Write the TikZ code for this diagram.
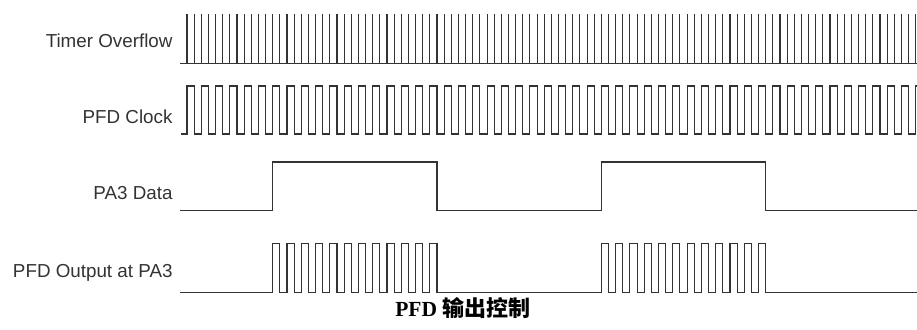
\documentclass[tikz,border=0pt]{standalone}
\usepackage{fontspec}
\setmainfont{Liberation Sans}
\newfontfamily\cjk{Noto Sans CJK SC}
\newfontfamily\titleserif{Liberation Serif}
\definecolor{wave}{rgb}{0.2,0.2,0.2}
\begin{document}
\begin{tikzpicture}[x=1pt,y=-1pt,
  wavestyle/.style={draw=wave,line width=1.1pt,line join=miter},
  lbl/.style={anchor=base east,inner sep=0pt,text=wave,font=\fontsize{18.8}{22}\selectfont}]
\useasboundingbox (0,0) rectangle (917,329);
\def\P{14.288}
\def\H{7.144}
% labels
\node[lbl] (lto) at (172.7,47.5) {Timer Overflow};
\node[lbl] (lclk) at (172.7,123.5) {PFD Clock};
\node[lbl] (ldata) at (172.7,199.5) {PA3 Data};
\node[lbl] (lout) at (172.7,277.5) {PFD Output at PA3};
% timer overflow
\draw[wavestyle] (180,63.3) -- (917,63.3);
\foreach \k in {0,...,102}{
  \draw[wavestyle] ({187+\k*\H},63.3) -- ({187+\k*\H},14);
}
% PFD clock
\draw[wavestyle] (181,134) -- (187,134)
  foreach \k in {0,...,50}{
    -- ({187+\k*\P},86) -- ({187+\k*\P+\H},86) -- ({187+\k*\P+\H},134) -- ({187+(\k+1)*\P},134)
  } -- ({187+51*\P},86) -- (917,86);
% PA3 data
\draw[wavestyle] (180,210.7) -- ({187+6*\P},210.7) -- ({187+6*\P},162) -- ({187+17.5*\P},162)
  -- ({187+17.5*\P},210.7) -- ({187+29*\P},210.7) -- ({187+29*\P},162) -- ({187+40.5*\P},162)
  -- ({187+40.5*\P},210.7) -- (917,210.7);
% PFD output
\draw[wavestyle] (180,292.7) -- ({187+6*\P},292.7)
  foreach \k in {6,...,17}{
    -- ({187+\k*\P},243.3) -- ({187+\k*\P+\H},243.3) -- ({187+\k*\P+\H},292.7) -- ({187+(\k+1)*\P},292.7)
  } -- ({187+29*\P},292.7)
  foreach \k in {29,...,40}{
    -- ({187+\k*\P},243.3) -- ({187+\k*\P+\H},243.3) -- ({187+\k*\P+\H},292.7) -- ({187+(\k+1)*\P},292.7)
  } -- (917,292.7);
% title
\node[anchor=base,inner sep=0pt] (title) at (463,316.5) {{\titleserif\bfseries\fontsize{21.5}{24}\selectfont PFD}\hspace{5.5pt}{\cjk\bfseries\fontsize{22}{24}\selectfont 输出控制}};
\end{tikzpicture}
\end{document}
